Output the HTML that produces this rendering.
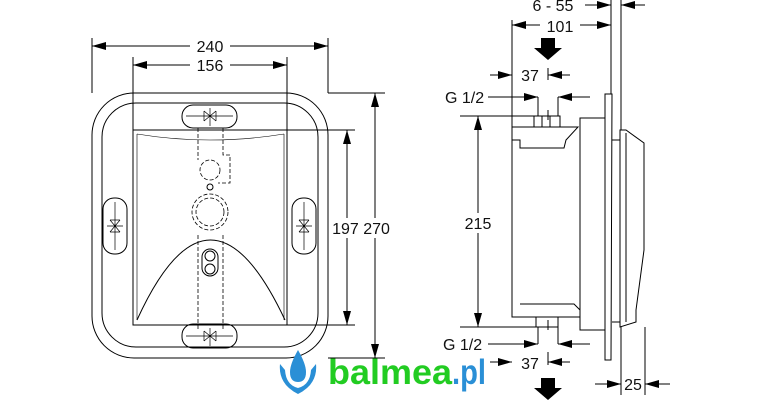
<!DOCTYPE html>
<html><head><meta charset="utf-8"><style>
html,body{margin:0;padding:0;background:#fff;width:770px;height:400px;overflow:hidden}
svg text{font-family:"Liberation Sans",sans-serif;font-size:16px;fill:#111}
</style></head><body>
<svg width="770" height="400" viewBox="0 0 770 400" xmlns="http://www.w3.org/2000/svg">
<defs>
<marker id="a" viewBox="0 0 14 8" refX="14" refY="4" markerWidth="14" markerHeight="8" markerUnits="userSpaceOnUse" orient="auto-start-reverse"><path d="M0,0L14,4L0,8z" fill="#000"/></marker>
</defs>
<g fill="none" stroke="#000" stroke-width="1">
<rect x="92" y="93" width="236" height="265" rx="42"/>
<rect x="102" y="103" width="216" height="244" rx="34"/>
<rect x="133" y="130" width="154" height="195" fill="#fff"/>
<path d="M137,134 Q210,146 284,134 M137,134 L137,320 M284,134 L284,320" stroke-width="0.6"/>
<path d="M137,320 Q210,160 285,320" stroke-width="1"/>
<rect x="182" y="105" width="55" height="23" rx="11"/>
<rect x="182" y="324" width="55" height="24" rx="11"/>
<rect x="103" y="198" width="24" height="56" rx="11"/>
<rect x="292" y="198" width="24" height="56" rx="11"/>
<path d="M186,116H233M210,108V126M204,111L216,121M204,121L216,111M204,111V121M216,111V121" stroke-width="0.7"/>
<path d="M186,336H233M210,328V346M204,331L216,341M204,341L216,331M204,331V341M216,331V341" stroke-width="0.7"/>
<path d="M115,202V250M107,226H123M110,220L120,232M110,232L120,220M110,220H120M110,232H120" stroke-width="0.7"/>
<path d="M304,202V250M296,226H312M299,220L309,232M299,232L309,220M299,220H309M299,232H309" stroke-width="0.7"/>
<g stroke-dasharray="4,2" stroke-width="0.8">
<path d="M198,128V160M223,128V155H230V183H218"/>
<circle cx="210" cy="170" r="10"/>
<circle cx="210" cy="212" r="14"/>
<circle cx="210" cy="212" r="18"/>
<path d="M198,235V330M223,235V330"/>
</g>
<circle cx="210" cy="187" r="3"/>
<circle cx="210" cy="256" r="5"/><circle cx="210" cy="269" r="5"/>
<rect x="202" y="249" width="16" height="27" rx="8"/>
<path d="M92,93V38M328,93V38M133,130V57M287,130V57M287,130H355M328,93H385M287,325H355M328,358H385"/>
<path d="M92,46H190M230,46H328" marker-start="url(#a)" marker-end="url(#a)"/>
<path d="M133,65H190M230,65H287" marker-start="url(#a)" marker-end="url(#a)"/>
<path d="M347,130V325" marker-start="url(#a)" marker-end="url(#a)"/>
<path d="M375,93V358" marker-start="url(#a)" marker-end="url(#a)"/>
<path d="M512,127H578L566,140L564,148H520V140H512Z" fill="#fff"/>
<path d="M512,127V317H580V127" />
<path d="M520,140V148M520,304H574L580,310"/>
<rect x="534" y="116" width="26" height="11"/>
<path d="M542,116V127M550,116V127"/>
<rect x="536" y="317" width="22" height="10"/>
<path d="M580,118H605V330H580Z" fill="#fff"/>
<path d="M605,94H612L611,360H605Z" fill="#fff"/>
<path d="M612,140H620M612,322H620"/>
<path d="M620,130H626L644,143V250L636,310V322L620,327Z" fill="#fff"/>
<path d="M626,133V322"/>
<path d="M512,20V135M611,0V94M621,0V130M621,327V395M645,327V395"/>
<path d="M460,116H534M460,327H536M548,68V80M548,110V120M548,320V330M548,352V365"/>
<path d="M512,25H540M580,25H611" marker-start="url(#a)" marker-end="url(#a)"/>
<path d="M585,5H611" marker-end="url(#a)"/>
<path d="M645,5H621" marker-end="url(#a)"/>
<path d="M490,75H512" marker-end="url(#a)"/>
<path d="M570,75H548" marker-end="url(#a)"/>
<path d="M488,97H538" marker-end="url(#a)"/>
<path d="M590,97H558" marker-end="url(#a)"/>
<path d="M488,344H538" marker-end="url(#a)"/>
<path d="M590,344H558" marker-end="url(#a)"/>
<path d="M490,362H512" marker-end="url(#a)"/>
<path d="M570,362H548" marker-end="url(#a)"/>
<path d="M595,384H621" marker-end="url(#a)"/>
<path d="M670,384H645" marker-end="url(#a)"/>
<path d="M538,97V116M558,97V116M538,327V344M558,327V344"/>
<path d="M478,116V327" marker-start="url(#a)" marker-end="url(#a)"/>
</g>
<path d="M541,38H555V48H562L548,60L534,48H541Z" fill="#000"/>
<path d="M541,378H555V388H562L548,400L534,388H541Z" fill="#000"/>
<rect x="190" y="37" width="40" height="18" fill="#fff"/>
<rect x="190" y="56" width="40" height="18" fill="#fff"/>
<text x="210" y="52" text-anchor="middle">240</text>
<text x="210" y="71" text-anchor="middle">156</text>
<rect x="332" y="218" width="58" height="20" fill="#fff"/>
<text x="361" y="234" text-anchor="middle">197 270</text>
<rect x="463" y="213" width="30" height="20" fill="#fff"/>
<text x="478" y="229" text-anchor="middle">215</text>
<text x="553" y="11" text-anchor="middle">6 - 55</text>
<text x="560" y="32" text-anchor="middle">101</text>
<text x="530" y="81" text-anchor="middle">37</text>
<text x="445" y="103">G 1/2</text>
<text x="443" y="350">G 1/2</text>
<text x="530" y="369" text-anchor="middle">37</text>
<text x="633" y="390" text-anchor="middle">25</text>
<path d="M298,350Q290,364 290,372Q290,382 298,382Q306,382 306,372Q306,364 298,350Z" fill="#2a8fd6"/>
<path d="M280,364Q278,384 298,394Q318,384 316,364L311,370Q310,385 298,388Q286,385 285,370Z" fill="#2a8fd6"/>
<text x="328" y="384" style="font-size:35px;font-weight:bold;fill:#22cc22" textLength="124" lengthAdjust="spacingAndGlyphs">balmea</text>
<text x="452" y="384" style="font-size:35px;font-weight:bold;fill:#2a8fd6" textLength="34" lengthAdjust="spacingAndGlyphs">.pl</text>
</svg>
</body></html>
